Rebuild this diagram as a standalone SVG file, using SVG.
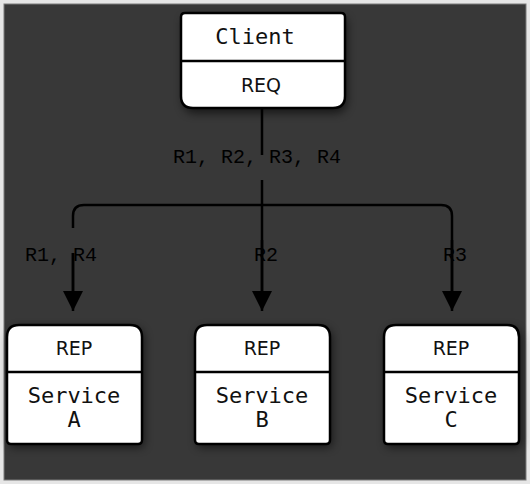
<svg xmlns="http://www.w3.org/2000/svg" width="530" height="484" viewBox="0 0 530 484">
<defs>
<style>
.box{fill:#fff;stroke:#000;stroke-width:2.5}
.div{stroke:#000;stroke-width:2.5}
.mono{font-family:"DejaVu Sans Mono","Liberation Mono",monospace;font-size:22px;fill:#111;text-anchor:middle}
.sans{font-family:"DejaVu Sans","Liberation Sans",sans-serif;font-size:19px;fill:#111;text-anchor:middle}
.lbl{font-family:"Liberation Mono","DejaVu Sans Mono",monospace;font-size:20px;fill:#000}
.edge{fill:none;stroke:#000;stroke-width:2.5}
</style>
<filter id="sh" x="-20%" y="-20%" width="140%" height="140%">
<feGaussianBlur stdDeviation="5"/>
</filter>
<marker id="arr" viewBox="0 0 20 20" refX="20" refY="10" markerWidth="20" markerHeight="20" markerUnits="userSpaceOnUse" orient="auto">
<path d="M0,0 L20,10 L0,20 Z" fill="#000"/>
</marker>
</defs>
<rect x="0" y="0" width="530" height="484" fill="#e6e6e6"/>
<rect x="4" y="4" width="522" height="476" fill="#383838" stroke="#7a7a7a" stroke-width="1"/>

<g id="connectors">
<path class="edge" d="M262,109 V155 M262,180 V311" marker-end="url(#arr)"/>
<path class="edge" d="M262,205 H84 Q73,205 73,216 V228"/>
<path class="edge" d="M73,253 V311" marker-end="url(#arr)"/>
<path class="edge" d="M262,205 H441 Q452,205 452,216 V311" marker-end="url(#arr)"/>
<text class="lbl" x="173" y="163">R1, R2, R3, R4</text>
</g>

<g id="client">
<path d="M185,15 H341 Q345,15 345,19 V97 Q345,110 332,110 H194 Q181,110 181,97 V19 Q181,15 185,15 Z" fill="#000" opacity="0.6" filter="url(#sh)" transform="translate(2,3)"/>
<path class="box" d="M185,13 H341 Q345,13 345,17 V96 Q345,108 333,108 H193 Q181,108 181,96 V17 Q181,13 185,13 Z"/>
<line class="div" x1="181" y1="61" x2="345" y2="61"/>
<text class="mono" x="255" y="44">Client</text>
<text class="sans" x="261" y="92">REQ</text>
</g>

<g id="serviceA">
<path d="M19,325 H130 Q142,325 142,337 V440 Q142,444 138,444 H11 Q7,444 7,440 V337 Q7,325 19,325 Z" fill="#000" opacity="0.6" filter="url(#sh)" transform="translate(2,3)"/>
<path class="box" d="M19,325 H130 Q142,325 142,337 V440 Q142,444 138,444 H11 Q7,444 7,440 V337 Q7,325 19,325 Z"/>
<line class="div" x1="7" y1="372" x2="142" y2="372"/>
<text class="sans" x="74" y="355">REP</text>
<text class="mono" x="74" y="403">Service</text>
<text class="mono" x="74" y="427">A</text>
</g>

<g id="serviceB">
<path d="M207,325 H318 Q330,325 330,337 V440 Q330,444 326,444 H199 Q195,444 195,440 V337 Q195,325 207,325 Z" fill="#000" opacity="0.6" filter="url(#sh)" transform="translate(2,3)"/>
<path class="box" d="M207,325 H318 Q330,325 330,337 V440 Q330,444 326,444 H199 Q195,444 195,440 V337 Q195,325 207,325 Z"/>
<line class="div" x1="195" y1="372" x2="330" y2="372"/>
<text class="sans" x="262" y="355">REP</text>
<text class="mono" x="262" y="403">Service</text>
<text class="mono" x="262" y="427">B</text>
</g>

<g id="serviceC">
<path d="M396,325 H507 Q519,325 519,337 V440 Q519,444 515,444 H388 Q384,444 384,440 V337 Q384,325 396,325 Z" fill="#000" opacity="0.6" filter="url(#sh)" transform="translate(2,3)"/>
<path class="box" d="M396,325 H507 Q519,325 519,337 V440 Q519,444 515,444 H388 Q384,444 384,440 V337 Q384,325 396,325 Z"/>
<line class="div" x1="384" y1="372" x2="519" y2="372"/>
<text class="sans" x="451" y="355">REP</text>
<text class="mono" x="451" y="403">Service</text>
<text class="mono" x="451" y="427">C</text>
</g>

<g id="edge-labels">
<text class="lbl" x="25" y="261">R1, R4</text>
<text class="lbl" x="254" y="261">R2</text>
<text class="lbl" x="443" y="261">R3</text>
</g>
<g id="edge-overlay">
<path class="edge" d="M73,253 V292"/>
<path class="edge" d="M262,240 V292"/>
<path class="edge" d="M452,240 V292"/>
</g>
</svg>
